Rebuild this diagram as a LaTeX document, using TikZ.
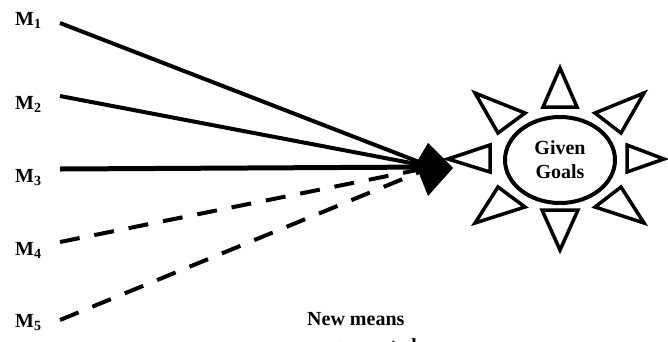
\documentclass[tikz,border=0pt]{standalone}
\usepackage{fontspec}
\usetikzlibrary{shapes.geometric}
\setmainfont{Liberation Serif}
\begin{document}
\begin{tikzpicture}[x=1pt,y=-1pt,
  mlabel/.style={font=\fontsize{20}{23}\selectfont\bfseries, inner sep=0pt, anchor=base west},
  meansline/.style={line width=4pt},
  dashline/.style={line width=4pt, dash pattern=on 20pt off 15pt},
  ray/.style={line width=3.5pt, line join=miter, miter limit=10}]
\useasboundingbox (0,0) rectangle (668,341);

% labels
\node[mlabel] (m1) at (15,25) {M\textsubscript{1}};
\node[mlabel] (m2) at (15,109) {M\textsubscript{2}};
\node[mlabel] (m3) at (15,182) {M\textsubscript{3}};
\node[mlabel] (m4) at (15,255) {M\textsubscript{4}};
\node[mlabel] (m5) at (15,327) {M\textsubscript{5}};

% start points and convergence point
\coordinate (s1) at (60,23);
\coordinate (s2) at (60,96);
\coordinate (s3) at (60,169);
\coordinate (s4) at (60,242);
\coordinate (s5) at (60,320);
\coordinate (c) at (432,167);

\draw[meansline] (s1) -- (c);
\draw[meansline] (s2) -- (c);
\draw[line width=5pt] (s3) -- (c);
\draw[dashline] (s4) -- (c);
\draw[dashline] (s5) -- (c);

% arrowhead
\fill (428,143) -- (453,168) -- (428,196) -- (420,176) -- (418,160) -- cycle;

% sun
\node[draw, line width=4pt, ellipse, minimum width=110pt, minimum height=86pt,
      inner sep=0pt, align=center, font=\fontsize{20}{24}\selectfont\bfseries]
      (goal) at (560,160) {Given\\Goals};
\draw[ray] (543,107) -- (577,107) -- (560,68) -- cycle;
\draw[ray] (542,210) -- (578,210) -- (560,250) -- cycle;
\draw[ray] (490,145) -- (490,172) -- (448,159) -- cycle;
\draw[ray] (627,145) -- (627,172) -- (664,159) -- cycle;
\draw[ray] (498,133) -- (525,113) -- (475,93) -- cycle;
\draw[ray] (595,113) -- (621,133) -- (644,93) -- cycle;
\draw[ray] (498,187) -- (525,207) -- (475,223) -- cycle;
\draw[ray] (595,207) -- (621,187) -- (644,223) -- cycle;

% caption (second line is cut off by the picture's lower edge, as in the reference)
\node[font=\fontsize{20}{24}\selectfont\bfseries, inner sep=0pt, anchor=base west]
  (newmeans) at (307,325) {New means};
\node[font=\fontsize{20}{24}\selectfont\bfseries, inner sep=0pt, anchor=base east]
  (gen) at (417,352) {generated};
\end{tikzpicture}
\end{document}
